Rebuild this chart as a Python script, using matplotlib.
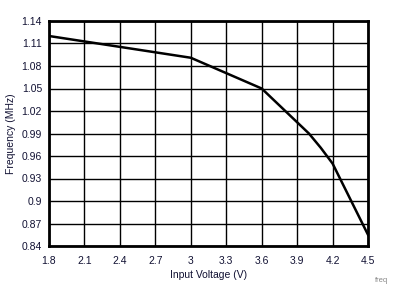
import matplotlib
matplotlib.use("Agg")
from matplotlib import pyplot as plt
import numpy as np

# frequency vs input voltage
voltage = [1.8, 3.0, 3.6, 4.0, 4.1, 4.2, 4.5]
freq = [1.12, 1.091, 1.05, 0.99, 0.971, 0.95, 0.855]

xticks = np.round(np.arange(1.8, 4.51, 0.3), 1)
yticks = np.round(np.arange(0.84, 1.141, 0.03), 2)

plt.rcParams['font.family'] = ['Liberation Sans', 'DejaVu Sans']

fig = plt.figure(figsize=(4.06, 3.05), dpi=100)
ax = fig.add_axes([49 / 406, 1 - 246 / 305, 319 / 406, 225 / 305])

ax.plot(voltage, freq, color='black', lw=1.8, solid_joinstyle='miter')

ax.set_xlim(1.8, 4.5)
ax.set_ylim(0.84, 1.14)
ax.set_xticks(xticks)
ax.set_yticks(yticks)
ax.set_xticklabels([f"{v:g}" for v in xticks])
ax.set_yticklabels([f"{v:g}" for v in yticks])
ax.tick_params(length=0, labelsize=7.5, colors='#111133')
ax.tick_params(axis='x', pad=7)
ax.tick_params(axis='y', pad=5)
ax.grid(True, color='black', lw=1.0)
ax.set_axisbelow(True)
for s in ax.spines.values():
    s.set_linewidth(2.0)

ax.set_xlabel("Input Voltage (V)", fontsize=7.5, color='#111133', labelpad=3)
ax.set_ylabel("Frequency (MHz)", fontsize=7.5, color='#111133', labelpad=4)

fig.text(382 / 406, 1 - 280 / 305, "freq", fontsize=5.5, color='#888888',
         ha='center', va='center')

fig.savefig("out.png", dpi=100)
